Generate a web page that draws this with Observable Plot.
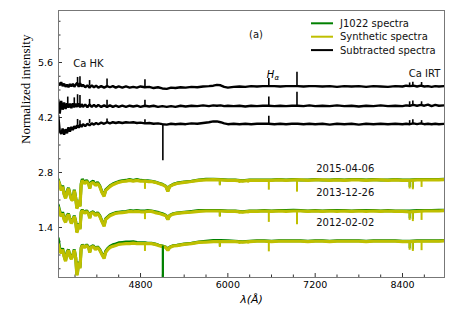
<!DOCTYPE html>
<html><head><meta charset="utf-8">
<script src="https://cdn.jsdelivr.net/npm/d3@7"></script>
<script src="https://cdn.jsdelivr.net/npm/@observablehq/plot@0.6"></script>
<style>body{margin:0;background:#fff;} #chart svg{display:block;}</style>
</head><body><div id="chart"></div>
<script>
// ---- data ----
const waveObs = [3670,3690,3710,3730,3750,3770,3790,3810,3830,3850,3870,3890,3910,3925,3935,3950,3968,3985,4000,
4030,4060,4090,4102,4120,4150,4180,4210,4240,4270,4300,4320,4350,4380,4420,4460,4500,4550,4600,4650,4700,4750,4800,
4861,4900,4950,5000,5050,5100,5150,5175,5200,5250,5300,5400,5500,5600,5700,5800,
5900,6000,6100,6200,6300,6400,6500,6600,6700,6800,6900,7000,7100,7200,7300,7400,7500,7600,7700,7800,7900,8000,8100,8200,8300,8400,8500,8600,8700,8800,8900,8980];

const syn2015 = [2.58,2.49,2.34,2.44,2.24,2.14,2.29,2.39,2.24,2.11,2.09,2.34,2.14,1.88,1.93,2.09,1.93,2.49,2.60,
2.52,2.57,2.49,2.39,2.52,2.55,2.47,2.52,2.44,2.29,2.19,2.34,2.39,2.44,2.49,2.52,2.55,2.57,2.58,2.60,2.58,2.60,2.58,
2.58,2.57,2.57,2.55,2.52,2.49,2.44,2.32,2.44,2.49,2.52,2.55,2.57,2.60,2.61,2.62,
2.61,2.60,2.60,2.58,2.60,2.60,2.60,2.60,2.61,2.60,2.61,2.61,2.60,2.61,2.61,2.60,2.61,2.60,2.61,2.61,2.60,2.61,2.61,2.60,2.61,2.60,2.60,2.61,2.61,2.61,2.61,2.62];
const obs2015 = [2.62,2.50,2.37,2.47,2.26,2.16,2.32,2.41,2.26,2.13,2.11,2.36,2.15,1.90,1.95,2.10,1.95,2.52,2.63,
2.55,2.60,2.51,2.41,2.55,2.58,2.49,2.55,2.46,2.31,2.21,2.36,2.41,2.46,2.51,2.54,2.57,2.59,2.60,2.62,2.60,2.62,2.60,
2.59,2.59,2.58,2.56,2.53,2.50,2.45,2.33,2.45,2.50,2.53,2.56,2.58,2.61,2.63,2.63,
2.62,2.61,2.61,2.59,2.61,2.61,2.61,2.61,2.62,2.61,2.62,2.61,2.61,2.62,2.61,2.61,2.62,2.61,2.62,2.62,2.61,2.62,2.61,2.61,2.62,2.61,2.61,2.62,2.62,2.62,2.62,2.63];

const syn2013 = [1.91,1.78,1.68,1.76,1.60,1.53,1.68,1.73,1.60,1.50,1.58,1.68,1.53,1.27,1.32,1.48,1.35,1.78,1.83,
1.76,1.81,1.73,1.63,1.76,1.78,1.70,1.76,1.68,1.55,1.43,1.60,1.65,1.70,1.73,1.76,1.77,1.78,1.79,1.81,1.80,1.81,1.80,
1.80,1.81,1.81,1.78,1.76,1.73,1.70,1.60,1.70,1.74,1.76,1.78,1.79,1.81,1.82,1.82,
1.82,1.81,1.81,1.79,1.81,1.81,1.82,1.81,1.82,1.81,1.82,1.82,1.81,1.82,1.81,1.82,1.81,1.82,1.81,1.82,1.81,1.82,1.81,1.82,1.81,1.81,1.80,1.81,1.82,1.82,1.82,1.83];
const obs2013 = [1.97,1.82,1.70,1.79,1.62,1.55,1.71,1.75,1.62,1.52,1.60,1.70,1.55,1.29,1.34,1.50,1.37,1.80,1.85,
1.78,1.83,1.75,1.65,1.78,1.80,1.72,1.78,1.70,1.57,1.45,1.62,1.67,1.72,1.75,1.78,1.79,1.80,1.81,1.83,1.82,1.83,1.82,
1.82,1.83,1.82,1.80,1.78,1.75,1.71,1.61,1.71,1.75,1.77,1.79,1.81,1.83,1.83,1.83,
1.83,1.82,1.82,1.80,1.82,1.82,1.83,1.82,1.83,1.83,1.84,1.83,1.82,1.83,1.82,1.83,1.83,1.83,1.82,1.83,1.83,1.83,1.82,1.83,1.82,1.82,1.82,1.83,1.83,1.83,1.84,1.84];

const syn2012 = [0.97,0.82,0.74,0.84,0.66,0.54,0.74,0.82,0.66,0.59,0.69,0.82,0.61,0.18,0.26,0.51,0.36,0.87,0.94,
0.89,0.94,0.87,0.76,0.89,0.92,0.84,0.89,0.82,0.71,0.61,0.76,0.84,0.89,0.92,0.94,0.97,0.98,0.99,0.99,1.00,0.99,0.99,
0.99,0.99,0.99,0.97,0.94,0.92,0.89,0.82,0.89,0.93,0.94,0.97,0.99,1.02,1.03,1.04,
1.04,1.04,1.04,1.03,1.04,1.05,1.05,1.04,1.05,1.05,1.05,1.05,1.04,1.05,1.05,1.04,1.05,1.05,1.05,1.05,1.04,1.05,1.05,1.05,1.05,1.04,1.04,1.05,1.05,1.05,1.05,1.06];
const obs2012 = [1.12,0.86,0.77,0.87,0.68,0.56,0.77,0.84,0.68,0.61,0.71,0.84,0.63,0.20,0.28,0.53,0.38,0.89,0.96,
0.91,0.96,0.89,0.78,0.91,0.94,0.86,0.91,0.84,0.73,0.63,0.79,0.87,0.92,0.96,0.98,1.01,1.02,1.03,1.03,1.04,1.02,1.01,
1.01,1.00,1.00,0.98,0.95,0.93,0.90,0.83,0.90,0.94,0.95,0.98,1.00,1.03,1.05,1.07,
1.07,1.06,1.05,1.04,1.05,1.06,1.06,1.05,1.06,1.06,1.06,1.06,1.05,1.06,1.06,1.05,1.06,1.06,1.06,1.06,1.05,1.06,1.06,1.06,1.06,1.05,1.05,1.06,1.06,1.06,1.06,1.07];

// narrow absorption lines: [wavelength, continuum, line bottom]
const synLines2015 = [[4861,2.58,2.37],[5890,2.61,2.46],[6160,2.60,2.52],[6280,2.60,2.53],[6563,2.60,2.35],[6950,2.61,2.30],[8498,2.60,2.38],[8542,2.60,2.36],[8662,2.61,2.42]];
const synLines2013 = [[4861,1.80,1.60],[5890,1.82,1.66],[6160,1.81,1.74],[6280,1.81,1.75],[6563,1.81,1.53],[6950,1.82,1.47],[8498,1.80,1.58],[8542,1.80,1.55],[8662,1.81,1.58]];
const synLines2012 = [[4861,0.99,0.79],[5890,1.04,0.89],[6160,1.04,0.97],[6280,1.04,0.98],[6563,1.04,0.78],[8498,1.04,0.82],[8542,1.04,0.79],[8662,1.05,0.81]];
const obsLines2015 = [[5890,2.62,2.48],[8498,2.61,2.42],[8542,2.61,2.40]];
const obsLines2013 = [[5890,1.83,1.68],[8498,1.82,1.62],[8542,1.82,1.60]];
const obsLines2012 = [[5107,0.93,0.13],[5890,1.06,0.92],[8498,1.06,0.86],[8542,1.06,0.83]];

const waveSub = [3670,3690,3710,3730,3750,3770,3790,3810,3830,3850,3870,3890,3910,3930,3950,3970,3990,4010,4040,4070,
4100,4130,4160,4190,4220,4260,4300,4340,4380,4420,4460,4500,4550,4600,4650,4700,4750,4800,4860,4920,4980,5040,5100,5160,
5220,5280,5350,5420,5500,5580,5660,5740,5800,5850,5900,5950,6000,6080,6160,6240,6320,6400,6480,6560,6640,6720,6800,6880,
6960,7040,7120,7200,7300,7400,7500,7600,7700,7800,7900,8000,8100,8200,8300,8400,8450,8500,8550,8600,8650,8700,8750,8800,8850,8900,8980];
const sub2015 = [5.08,5.02,5.10,5.00,5.06,4.98,5.04,4.97,5.05,4.99,5.06,4.98,5.04,5.08,4.98,5.07,4.99,5.03,4.97,5.02,
4.96,5.02,4.97,5.01,4.96,5.00,4.96,5.00,4.97,5.00,4.96,4.99,4.96,4.99,4.96,4.98,4.96,4.99,4.97,4.98,4.95,4.97,4.94,4.93,
4.96,4.95,4.97,4.96,4.98,4.97,4.99,5.00,5.01,5.03,5.02,4.98,4.96,4.98,4.99,4.98,5.00,4.99,5.00,5.00,5.00,4.99,5.00,5.00,
5.00,4.99,5.00,5.00,4.99,5.00,4.98,5.00,4.99,5.00,4.98,5.00,4.99,4.98,5.00,4.99,5.01,5.00,5.01,4.99,5.01,4.99,5.00,4.98,5.00,4.99,5.00];
const sub2013 = [4.65,4.30,4.62,4.40,4.58,4.42,4.56,4.45,4.55,4.44,4.56,4.46,4.55,4.47,4.56,4.46,4.54,4.47,4.53,4.46,
4.53,4.47,4.52,4.47,4.52,4.47,4.51,4.47,4.51,4.47,4.50,4.47,4.50,4.47,4.50,4.48,4.50,4.47,4.50,4.48,4.50,4.47,4.49,4.47,
4.49,4.47,4.50,4.48,4.50,4.49,4.51,4.49,4.51,4.50,4.51,4.49,4.50,4.49,4.50,4.48,4.50,4.49,4.50,4.50,4.49,4.50,4.49,4.50,
4.50,4.49,4.51,4.49,4.50,4.49,4.51,4.49,4.50,4.48,4.50,4.49,4.51,4.49,4.50,4.49,4.51,4.50,4.52,4.50,4.52,4.50,4.53,4.49,4.52,4.50,4.51];
const sub2012 = [4.25,3.85,3.78,3.92,3.76,3.90,3.80,3.95,3.84,3.96,3.88,3.98,3.92,4.00,3.94,4.02,3.96,4.03,3.98,4.04,
4.00,4.05,4.02,4.06,4.03,4.07,4.04,4.08,4.05,4.08,4.06,4.08,4.06,4.08,4.07,4.08,4.06,4.07,4.05,4.06,4.04,4.05,4.03,4.02,
4.04,4.03,4.04,4.03,4.05,4.04,4.06,4.08,4.10,4.10,4.08,4.05,4.03,4.04,4.03,4.04,4.03,4.04,4.04,4.04,4.03,4.04,4.03,4.04,
4.04,4.03,4.04,4.03,4.04,4.02,4.04,4.03,4.04,4.02,4.04,4.03,4.04,4.03,4.04,4.03,4.04,4.03,4.05,4.03,4.05,4.03,4.04,4.03,4.04,4.03,4.04];
// emission / residual spikes: [wavelength, base, tip]
const subSpikes2015 = [[3935,5.0,5.22],[3968,5.0,5.24],[4100,5.0,5.14],[4340,5.0,5.18],[4861,4.98,5.16],[6563,5.0,5.19],[6950,5.0,5.35],[8498,5.0,5.08],[8542,5.0,5.10],[8662,5.0,5.09]];
const subSpikes2013 = [[3800,4.5,4.72],[3890,4.5,4.70],[3935,4.5,4.78],[3968,4.5,4.76],[4100,4.5,4.66],[4340,4.5,4.64],[4861,4.5,4.64],[6563,4.5,4.72],[6950,4.5,4.84],[8498,4.5,4.60],[8542,4.5,4.62],[8662,4.5,4.60]];
const subSpikes2012 = [[3935,4.0,4.15],[3968,4.0,4.12],[4100,4.05,4.15],[4340,4.06,4.16],[4861,4.05,4.14],[5107,4.03,3.10],[6563,4.04,4.23],[8498,4.03,4.12],[8542,4.03,4.14],[8662,4.03,4.12]];

const xTicks = [4800, 6000, 7200, 8400];
const xMinorTicks = [3900,4200,4500,5100,5400,5700,6300,6600,6900,7500,7800,8100,8700];
const yTicks = [1.4, 2.8, 4.2, 5.6];
const yMinorTicks = [0.35,0.7,1.05,1.75,2.1,2.45,3.15,3.5,3.85,4.55,4.9,5.25,5.95,6.3,6.65];

const seriesNames = ["J1022 spectra", "Synthetic spectra", "Subtracted spectra"];
const seriesColors = ["#008000", "#bfbf00", "#000000"];

const dateLabels = ["2015-04-06", "2013-12-26", "2012-02-02"];
const dateWave = [7613, 7613, 7613];
const dateVal = [2.89, 2.28, 1.51];
const annoLabels = ["(a)", "Ca HK", "Ca IRT"];
const annoWave = [6387, 4085, 8702];
const annoVal = [6.30, 5.575, 5.32];
const halphaWave = [6586, 6672];
const halphaVal = [5.29, 5.21];

// ---- build ----
const rows = (w, v) => w.map((x, i) => ({w: x, v: v[i]}));
const lineMark = (w, v, color, sw) => Plot.line(rows(w, v), {x: "w", y: "v", stroke: color, strokeWidth: sw, strokeLinejoin: "miter", clip: true});
const ruleMark = (arr, color, sw) => Plot.ruleX(arr, {x: d => d[0], y1: d => d[1], y2: d => d[2], stroke: color, strokeWidth: sw, clip: true});

const [cObs, cSyn, cSub] = seriesColors;
const marks = [];
[[obs2015, syn2015, obsLines2015, synLines2015], [obs2013, syn2013, obsLines2013, synLines2013], [obs2012, syn2012, obsLines2012, synLines2012]]
  .forEach(([o, s, ol, sl]) => {
    marks.push(lineMark(waveObs, o, cObs, 3));
    marks.push(ruleMark(ol, cObs, 2));
    marks.push(lineMark(waveObs, s, cSyn, 3.2));
    marks.push(ruleMark(sl, cSyn, 2));
  });
marks.push(ruleMark(obsLines2012.slice(0, 1), cObs, 2));
[[sub2015, subSpikes2015], [sub2013, subSpikes2013], [sub2012, subSpikes2012]].forEach(([s, sp]) => {
  marks.push(lineMark(waveSub, s, cSub, 2.4));
  marks.push(ruleMark(sp, cSub, 1.6));
});

const chart = Plot.plot({
  width: 463, height: 316,
  marginLeft: 58, marginRight: 19, marginTop: 10, marginBottom: 39,
  style: {fontFamily: "DejaVu Sans", fontSize: "9.5px", background: "#fff", color: "#000"},
  x: {domain: [3673, 8977]},
  y: {domain: [0.127, 6.924]},
  marks: [
    Plot.axisX(xMinorTicks, {tickSize: -2.5, tickFormat: () => "", label: null, stroke: "#333"}),
    Plot.axisX(xTicks, {tickSize: -4, tickPadding: 7.5, label: null, stroke: "#333", tickFormat: d => String(d)}),
    Plot.axisY(yMinorTicks, {tickSize: -2.5, tickFormat: () => "", label: null, stroke: "#333"}),
    Plot.axisY(yTicks, {tickSize: -4, tickPadding: 9.5, label: null, stroke: "#333", tickFormat: d => d.toFixed(1)}),
    ...marks,
    Plot.frame({stroke: "#777", strokeWidth: 1}),
    Plot.text(dateLabels, {x: (d, i) => dateWave[i], y: (d, i) => dateVal[i], text: d => d, fontSize: 10, fill: "#111"}),
    Plot.text(annoLabels, {x: (d, i) => annoWave[i], y: (d, i) => annoVal[i], text: d => d, fontSize: 10, fill: "#111"}),
    Plot.text(["H"], {x: halphaWave[0], y: halphaVal[0], text: d => d, fontSize: 10, fontStyle: "italic"}),
    Plot.text(["α"], {x: halphaWave[1], y: halphaVal[1], text: d => d, fontSize: 7, fontStyle: "italic"}),
    Plot.text(["λ(Å)"], {frameAnchor: "bottom", dy: 25, text: d => d, fontSize: 11, fontStyle: "italic"}),
    Plot.text(["Normalized intensity"], {frameAnchor: "left", dx: -33, rotate: -90, text: d => d, fontSize: 13, fontFamily: "Liberation Serif"})
  ]
});
document.getElementById("chart").appendChild(chart);

// legend (top-right inside the frame)
const svg = d3.select(chart);
const lg = svg.append("g").attr("font-family", "DejaVu Sans").attr("font-size", 10).attr("text-anchor", "start");
seriesNames.forEach((name, i) => {
  const y = 23.3 + i * 13.4;
  lg.append("line").attr("x1", 311).attr("x2", 333).attr("y1", y).attr("y2", y)
    .attr("stroke", seriesColors[i]).attr("stroke-width", 2);
  lg.append("text").attr("x", 340).attr("y", y).attr("dy", "0.35em").attr("text-anchor", "start").attr("fill", "#111").text(name);
});
</script>
</body></html>
